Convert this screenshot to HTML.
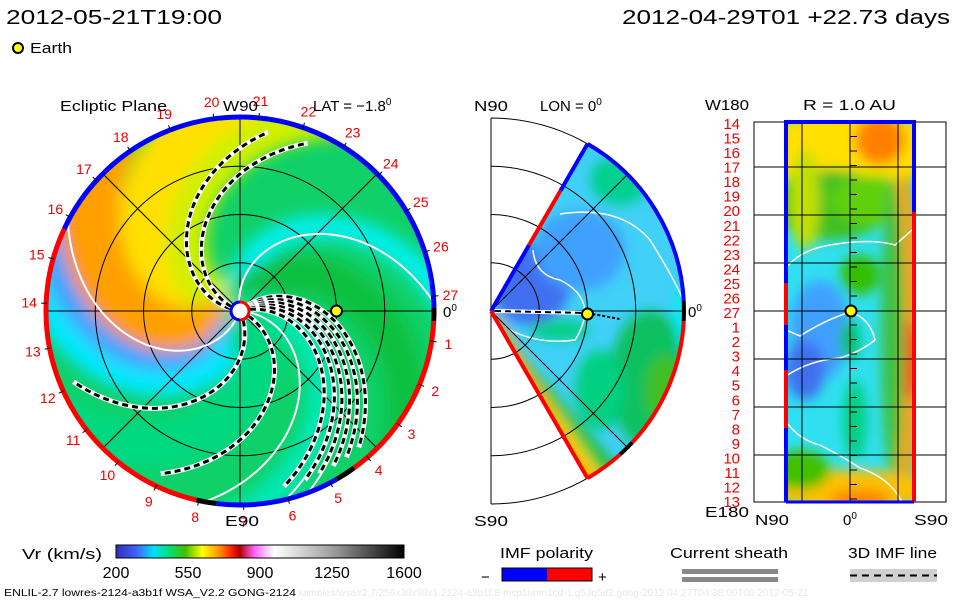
<!DOCTYPE html>
<html><head><meta charset="utf-8">
<style>
html,body{margin:0;padding:0;background:#fff;width:960px;height:600px;overflow:hidden}
svg{display:block;font-family:"Liberation Sans",sans-serif}
.t{font-size:15px;fill:#000}
.r{font-size:14px;fill:#e00}
</style></head>
<body>
<svg id="s" width="960" height="600" viewBox="0 0 960 600">
<defs>
<filter id="bl" x="-20%" y="-20%" width="140%" height="140%"><feGaussianBlur stdDeviation="8"/></filter>
<filter id="bl2" x="-20%" y="-20%" width="140%" height="140%"><feGaussianBlur stdDeviation="6"/></filter>
<clipPath id="disk"><circle cx="240" cy="311" r="193"/></clipPath>
<clipPath id="wedge"><path d="M491,311 L587.5,143.9 A193,193 0 0,1 587.5,478.1 Z"/></clipPath>
<clipPath id="rect3"><rect x="786" y="122" width="128" height="380"/></clipPath>
<linearGradient id="cbar" x1="0" x2="1" y1="0" y2="0">
<stop offset="0" stop-color="#3030b0"/><stop offset="0.07" stop-color="#4060ff"/>
<stop offset="0.13" stop-color="#00e0ff"/><stop offset="0.18" stop-color="#00e080"/>
<stop offset="0.24" stop-color="#40c000"/><stop offset="0.3" stop-color="#ffff00"/>
<stop offset="0.36" stop-color="#ff9000"/><stop offset="0.4" stop-color="#ff2000"/>
<stop offset="0.43" stop-color="#b00000"/><stop offset="0.48" stop-color="#ff60ff"/>
<stop offset="0.52" stop-color="#ffc0ff"/><stop offset="0.55" stop-color="#ffffff"/>
<stop offset="0.75" stop-color="#a0a0a0"/><stop offset="1" stop-color="#000"/>
</linearGradient>
</defs>
<text class="t" x="6" y="24" style="font-size:20px" textLength="216" lengthAdjust="spacingAndGlyphs">2012-05-21T19:00</text>
<text class="t" x="622" y="24" style="font-size:20px" textLength="328" lengthAdjust="spacingAndGlyphs">2012-04-29T01 +22.73 days</text>
<circle cx="18" cy="48" r="5" fill="#ff0" stroke="#000" stroke-width="2"/>
<text class="t" x="30" y="53" textLength="42" lengthAdjust="spacingAndGlyphs">Earth</text>

<g id="left"></g>
<g id="mid"></g>
<g id="right"></g>

<text class="t" x="60" y="111" textLength="107" lengthAdjust="spacingAndGlyphs">Ecliptic Plane</text>
<text class="t" x="223" y="111" textLength="35" lengthAdjust="spacingAndGlyphs">W90</text>
<text class="t" x="313" y="111">LAT = −1.8<tspan dy="-6" font-size="10">0</tspan></text>
<text class="t" x="225" y="526" textLength="34" lengthAdjust="spacingAndGlyphs">E90</text>
<text class="t" x="443" y="317">0<tspan dy="-6" font-size="10">0</tspan></text>
<text class="t" x="474" y="111" textLength="34" lengthAdjust="spacingAndGlyphs">N90</text>
<text class="t" x="540" y="111">LON = 0<tspan dy="-6" font-size="10">0</tspan></text>
<text class="t" x="474" y="526" textLength="34" lengthAdjust="spacingAndGlyphs">S90</text>
<text class="t" x="688" y="317">0<tspan dy="-6" font-size="10">0</tspan></text>
<text class="t" x="705" y="110" textLength="44" lengthAdjust="spacingAndGlyphs">W180</text>
<text class="t" x="803" y="110" textLength="93" lengthAdjust="spacingAndGlyphs">R = 1.0 AU</text>
<text class="t" x="705" y="517" textLength="44" lengthAdjust="spacingAndGlyphs">E180</text>
<text class="t" x="755" y="525" textLength="34" lengthAdjust="spacingAndGlyphs">N90</text>
<text class="t" x="843" y="525">0<tspan dy="-6" font-size="10">0</tspan></text>
<text class="t" x="914" y="525" textLength="34" lengthAdjust="spacingAndGlyphs">S90</text>

<text class="t" x="22" y="559" textLength="80" lengthAdjust="spacingAndGlyphs">Vr (km/s)</text>
<rect x="116" y="545" width="288" height="13" fill="url(#cbar)" stroke="#000" stroke-width="1"/>
<g id="cbticks"></g>
<text class="t" x="500" y="558" textLength="93" lengthAdjust="spacingAndGlyphs">IMF polarity</text>
<text class="t" x="481" y="582">−</text>
<rect x="502" y="568" width="45" height="13" fill="#00f"/>
<rect x="547" y="568" width="45" height="13" fill="#f00"/>
<rect x="502" y="568" width="90" height="13" fill="none" stroke="#000"/>
<text class="t" x="598" y="582">+</text>
<text class="t" x="670" y="558" textLength="118" lengthAdjust="spacingAndGlyphs">Current sheath</text>
<rect x="682" y="569" width="96" height="5" fill="#888"/>
<rect x="682" y="577" width="96" height="5" fill="#888"/>
<text class="t" x="848" y="558" textLength="89" lengthAdjust="spacingAndGlyphs">3D IMF line</text>
<rect x="850" y="569" width="87" height="13" fill="#d0d0d0"/>
<line x1="850" y1="575.5" x2="937" y2="575.5" stroke="#000" stroke-width="2" stroke-dasharray="7,5"/>
<text x="4" y="596" font-size="10" fill="#000" textLength="292" lengthAdjust="spacingAndGlyphs">ENLIL-2.7 lowres-2124-a3b1f WSA_V2.2 GONG-2124</text>
<text x="298" y="596" font-size="10" fill="#e8e8e8">xamples/wsa/r2.7/256x30x90x1.2124-a3b1f.8-mcp1umn1cd-1.g53q5d2.gong-2012:04:27T04:38:00T00 2012-05-21</text>
</svg>
<script>
const NS='http://www.w3.org/2000/svg';
function el(tag,attrs,parent){const e=document.createElementNS(NS,tag);for(const k in attrs)e.setAttribute(k,attrs[k]);parent.appendChild(e);return e;}
// ---- data ----
const cbTickLabels=[200,550,900,1250,1600];
const carringtonLabels=[27,1,2,3,4,5,6,7,8,9,10,11,12,13,14,15,16,17,18,19,20,21,22,23,24,25,26];
const rightLabels=[14,15,16,17,18,19,20,21,22,23,24,25,26,27,1,2,3,4,5,6,7,8,9,10,11,12,13];
const dashedSpiralEnds=[-75,-62,55,60,65,70,75,82,122,163];
const whiteSpiralEnds=[-3,207,100,76,69];
const fieldBands=[ // rim angle (deg), colour, width
 [-100,'#ffe000',70],[-75,'#d0f000',40],[-140,'#ffa000',60],[-160,'#ff8c00',30],[192,'#40a0ff',34],[180,'#00e8ff',26],[-8,'#00f0f0',24],[30,'#10c040',40],[84,'#00e8b0',30],[140,'#00d880',50]];
const rimSegments=[[-155,-1,'#00f'],[-1,3,'#000'],[3,54,'#f00'],[54,60,'#000'],[60,97,'#00f'],[97,103,'#000'],[103,205,'#f00']];
const midRim=[[-60,-3,'#00f'],[-3,3,'#000'],[3,43,'#f00'],[43,48,'#000'],[48,60,'#f00']];
const earthR=1.0;
// ---- axes ----
const L={cx:240,cy:311,R:193,au:96.5};
const rad=d=>d*Math.PI/180;
function pol(c,r,a){return [c.cx+r*Math.cos(rad(a)),c.cy+r*Math.sin(rad(a))];}
const K=0.5;
function spiralPath(c,endA,rmin,rmax){let d='';for(let r=rmin;r<=rmax;r+=3){const a=endA-K*(c.R-r);const p=pol(c,r,a);d+=(d?'L':'M')+p[0].toFixed(1)+','+p[1].toFixed(1);}return d;}
// left panel
const lg=document.getElementById('left');
const fg=el('g',{'clip-path':'url(#disk)'},lg);
el('circle',{cx:L.cx,cy:L.cy,r:L.R,fill:'#10d068'},fg);
const bf=el('g',{filter:'url(#bl)'},fg);
fieldBands.forEach(b=>{const p=el('path',{d:spiralPath(L,b[0],8,L.R+30),fill:'none',stroke:b[1],'stroke-width':b[2]},bf);

});
[0.5,1,1.5].forEach(au=>{const c=el('circle',{cx:L.cx,cy:L.cy,r:au*L.au,fill:'none',stroke:'#000','stroke-width':1},lg);

});
[0,45,90,135].forEach(a=>{const p1=pol(L,L.R,a),p2=pol(L,L.R,a+180);const l=el('line',{x1:p1[0],y1:p1[1],x2:p2[0],y2:p2[1],stroke:'#000','stroke-width':1},lg);

});
const sg=el('g',{'clip-path':'url(#disk)'},lg);
whiteSpiralEnds.forEach(e=>{const p=el('path',{d:spiralPath(L,e,10,L.R),fill:'none',stroke:'#fff','stroke-width':2},sg);

});
dashedSpiralEnds.forEach(e=>{const d=spiralPath(L,e,10,L.R-10);el('path',{d:d,fill:'none',stroke:'#fff','stroke-width':5},sg);const p=el('path',{d:d,fill:'none',stroke:'#000','stroke-width':3,'stroke-dasharray':'6,4'},sg);

});
rimSegments.forEach(s=>{const a=pol(L,L.R+1,s[0]),b=pol(L,L.R+1,s[1]);const p=el('path',{d:`M${a[0]},${a[1]} A${L.R+1},${L.R+1} 0 0,1 ${b[0]},${b[1]}`,fill:'none',stroke:s[2],'stroke-width':5},lg);

});
carringtonLabels.forEach((n,i)=>{const a=-4.4+i*360/27;const p=pol(L,L.R+18,a);const t=el('text',{x:p[0],y:p[1]+5,'text-anchor':'middle',class:'r'},lg);t.textContent=n;


const q1=pol(L,L.R,a),q2=pol(L,L.R+6,a);el('line',{x1:q1[0],y1:q1[1],x2:q2[0],y2:q2[1],stroke:'#000'},lg);});
el('circle',{cx:L.cx,cy:L.cy,r:9,fill:'#fff',stroke:'#f00','stroke-width':3},lg);
el('path',{d:`M${L.cx},${L.cy-9} A9,9 0 0,0 ${L.cx},${L.cy+9}`,fill:'none',stroke:'#00f','stroke-width':3},lg);
const e1=el('circle',{cx:L.cx+earthR*L.au,cy:L.cy,r:5.5,fill:'#ff0',stroke:'#000','stroke-width':2},lg);


// middle panel
const M={cx:491,cy:311,R:193,au:96.5};
const mg=document.getElementById('mid');
const wg=el('g',{'clip-path':'url(#wedge)'},mg);
el('rect',{x:480,y:130,width:220,height:360,fill:'#40d0f8'},wg);
const wb=el('g',{filter:'url(#bl2)'},wg);
[[530,285,40,40,'#4070f0'],[580,250,45,40,'#40a0ff'],[650,380,40,70,'#10c060'],[665,390,20,35,'#40c020'],[600,390,25,40,'#00d080'],[620,180,30,25,'#00d090'],[690,315,15,40,'#00f0f0'],[560,330,30,10,'#00d080']].forEach(b=>el('ellipse',{cx:b[0],cy:b[1],rx:b[2],ry:b[3],fill:b[4]},wb));
el('path',{d:`M491,318 L590,480 L630,480 Z`,fill:'#20c040'},wb);
el('path',{d:`M491,318 L587,480 L605,480 Z`,fill:'#ffe000'},wb);
el('path',{d:`M491,318 L560,440 L587,480 L575,480 Z`,fill:'#ffa000',stroke:'#ffa000','stroke-width':14},wb);
el('path',{d:'M560,214 Q620,205 650,240 Q675,280 683,300',fill:'none',stroke:'#fff','stroke-width':1.5},wg);
el('path',{d:'M533,250 Q535,275 560,280 Q600,300 575,340 Q540,345 510,330',fill:'none',stroke:'#fff','stroke-width':1.5},wg);
[0.5,1,1.5,2].forEach(au=>{const r=au*M.au;const a=el('path',{d:`M${M.cx},${M.cy-r} A${r},${r} 0 0,1 ${M.cx},${M.cy+r}`,fill:'none',stroke:'#000'},mg);

});
el('line',{x1:M.cx,y1:M.cy-M.R,x2:M.cx,y2:M.cy+M.R,stroke:'#000'},mg);
[-45,0,45].forEach(a=>{const p=pol(M,M.R,a);el('line',{x1:M.cx,y1:M.cy,x2:p[0],y2:p[1],stroke:'#000'},mg);});
midRim.forEach(s=>{const a=pol(M,M.R,s[0]),b=pol(M,M.R,s[1]);const p=el('path',{d:`M${a[0]},${a[1]} A${M.R},${M.R} 0 0,1 ${b[0]},${b[1]}`,fill:'none',stroke:s[2],'stroke-width':4},mg);

});
const tp=pol(M,M.R,-60),bp=pol(M,M.R,60);
el('path',{d:`M${M.cx},${M.cy} L${pol(M,76,-60).join(',')}`,stroke:'#00f','stroke-width':4,fill:'none'},mg);
el('path',{d:`M${pol(M,76,-60).join(',')} L${pol(M,139,-60).join(',')}`,stroke:'#f00','stroke-width':4,fill:'none'},mg);
el('path',{d:`M${pol(M,139,-60).join(',')} L${tp.join(',')}`,stroke:'#00f','stroke-width':4,fill:'none'},mg);
el('path',{d:`M${M.cx},${M.cy} L${bp.join(',')}`,stroke:'#f00','stroke-width':4,fill:'none'},mg);
el('line',{x1:M.cx+4,y1:M.cy,x2:M.cx+M.au,y2:M.cy+2,stroke:'#fff','stroke-width':4},mg);
el('line',{x1:M.cx+4,y1:M.cy,x2:M.cx+M.au,y2:M.cy+2,stroke:'#000','stroke-width':2,'stroke-dasharray':'6,4'},mg);
el('path',{d:`M${M.cx+M.au},${M.cy+2} L${M.cx+M.au+32},${M.cy+8}`,stroke:'#000','stroke-width':2,'stroke-dasharray':'3,2',fill:'none'},mg);
const e2=el('circle',{cx:M.cx+earthR*M.au,cy:M.cy+3,r:5.5,fill:'#ff0',stroke:'#000','stroke-width':2},mg);


// right panel
const rg=document.getElementById('right');
el('rect',{x:754,y:122,width:192,height:380,fill:'#fff',stroke:'#000'},rg);
const cg=el('g',{'clip-path':'url(#rect3)'},rg);
el('rect',{x:786,y:122,width:128,height:380,fill:'#30e0f0'},cg);
const cb=el('g',{filter:'url(#bl2)'},cg);
[[850,150,90,40,'#ffe000'],[880,140,25,25,'#ff8000'],[830,205,60,35,'#40c020'],[870,200,40,25,'#60d010'],[805,200,15,50,'#c0e000'],[860,275,20,20,'#30c000'],[820,330,30,50,'#40a0ff'],[805,370,20,30,'#4070f0'],[850,340,10,20,'#00c060'],[855,420,12,40,'#00d080'],[905,330,14,160,'#ffa000'],[908,360,10,40,'#ff4000'],[893,330,12,150,'#40c040'],[850,490,80,20,'#ffc000'],[800,470,30,20,'#40c000'],[860,500,30,10,'#ff8000']].forEach(b=>el('ellipse',{cx:b[0],cy:b[1],rx:b[2],ry:b[3],fill:b[4]},cb));
el('path',{d:'M786,268 Q800,250 830,245 Q870,238 895,245 L912,230',fill:'none',stroke:'#fff','stroke-width':1.5},cg);
el('path',{d:'M786,330 L800,336 Q825,320 850,312 Q870,318 875,340 Q860,352 840,358 Q810,360 786,376',fill:'none',stroke:'#fff','stroke-width':1.5},cg);
el('path',{d:'M788,424 Q800,440 820,445 Q840,455 860,468 Q890,478 902,502',fill:'none',stroke:'#fff','stroke-width':1.5},cg);
[802,850,898].forEach(x=>el('line',{x1:x,y1:122,x2:x,y2:502,stroke:'#000'},rg));
[167,215,263,311,359,407,455].forEach(y=>el('line',{x1:754,y1:y,x2:946,y2:y,stroke:'#000'},rg));
for(let y=122;y<=502;y+=14.5)el('line',{x1:850,y1:y,x2:857,y2:y,stroke:'#000'},rg);
el('path',{d:'M786,502 L786,122 L914,122 L914,212',fill:'none',stroke:'#00f','stroke-width':4},rg);
el('path',{d:'M914,212 L914,502',fill:'none',stroke:'#f00','stroke-width':4},rg);
el('path',{d:'M786,283 L786,325 M786,370 L786,428',fill:'none',stroke:'#f00','stroke-width':4},rg);
el('line',{x1:786,y1:502,x2:914,y2:502,stroke:'#00f','stroke-width':3},rg);
rightLabels.forEach((n,i)=>{const t=el('text',{x:740,y:129+i*14.54,'text-anchor':'end',class:'r',style:'font-size:15px'},rg);t.textContent=n;

});
const e3=el('circle',{cx:851,cy:311,r:5.5,fill:'#ff0',stroke:'#000','stroke-width':2},rg);


// colorbar ticks
const cbx=v=>116+(v-200)/(1600-200)*288;
const ct=document.getElementById('cbticks');
cbTickLabels.forEach(v=>{const t=el('text',{x:cbx(v),y:578,'text-anchor':'middle',class:'t',style:'font-size:16px'},ct);t.textContent=v;

});
</script>
</body></html>
